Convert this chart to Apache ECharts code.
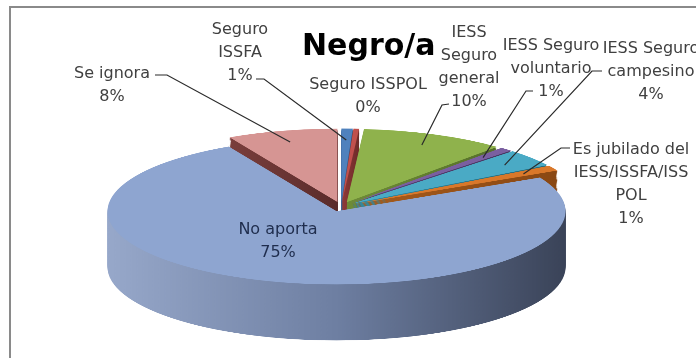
<!DOCTYPE html>
<html><head><meta charset="utf-8">
<script src="https://cdn.jsdelivr.net/npm/echarts@6/dist/echarts.min.js"></script>
<style>
html,body{margin:0;padding:0;background:#fff;overflow:hidden;width:696px;height:358px;}
#wrap{position:relative;width:696px;height:358px;overflow:hidden;background:#fff;}
#pie3d{position:absolute;left:0;top:101.4px;width:696px;height:800px;transform-origin:0 0;transform:scaleY(0.32);}
#labels{position:absolute;left:0;top:0;width:696px;height:358px;}
</style></head><body>
<div id="wrap"><div id="pie3d"></div><div id="labels"></div></div>
<script>
// ---- data ----
const title = 'Negro/a';
const categories = ['Seguro\nISSFA', 'Seguro ISSPOL', 'IESS\nSeguro\ngeneral', 'IESS Seguro\nvoluntario',
  'IESS Seguro\ncampesino', 'Es jubilado del\nIESS/ISSFA/ISS\nPOL', 'No aporta', 'Se ignora'];
const values = [0.8, 0.4, 10.2, 0.9, 3.9, 1.2, 74.8, 7.8];

// ---- styles ----
const topColors = ['#4F81BD', '#C0504D', '#8FB24C', '#7A5FA0', '#4AAAC5', '#D9782A', '#8EA5D0', '#D69593'];
const wallStops = [
  ['#3C6394', '#2A4669'],
  ['#8F3B39', '#6E2B29'],
  ['#6E8C37', '#56702A'],
  ['#5A4578', '#46355F'],
  ['#358A9F', '#276B7C'],
  ['#A85C1B', '#8A4813'],
  ['#97A8CA', '#6E7FA2', '#3A4358'],
  ['#7A3E3C', '#5A2C2B']
];
const labelColors = ['#404040', '#404040', '#404040', '#404040', '#404040', '#404040', '#1F2D4D', '#404040'];

// ---- layout ----
const K = 0.32, TOP = 101.4, CX = 341, CY = 330, R = 229, EXPLODE = 15, DEPTH = 175, STEP = 3.5, TIP = 0.85;
const LABEL_POS = [[240, 53], [368, 96], [469, 67], [551, 69], [651, 72], [631, 184], [278, 241], [112, 85]];
const LEADER = [[[256, 79], [264, 79]], null, [[449, 104], [442, 105]], [[533, 91], [526, 91]],
  [[602, 71], [592, 71]], [[570, 148], [561, 148]], null, [[155, 75], [167, 75]]];
const BCX = 348, BCY = 200;

function grad(stops) {
  return new echarts.graphic.LinearGradient(0, 0, 1, 0,
    stops.map((c, i) => ({ offset: i / (stops.length - 1), color: c })));
}

// ---- 3D pie body (squashed) ----
const pieChart = echarts.init(document.getElementById('pie3d'), null, { renderer: 'canvas' });
const series = [];
const nLayers = Math.round(DEPTH / STEP);
for (let n = nLayers; n >= 0; n--) {
  const j = n * STEP;
  const isTop = n === 0;
  series.push({
    type: 'pie', silent: true, animation: false,
    center: [CX, CY + j], radius: R, startAngle: 90, clockwise: true,
    selectedMode: 'multiple', selectedOffset: EXPLODE,
    label: { show: false }, labelLine: { show: false },
    emphasis: { disabled: true },
    itemStyle: { borderWidth: 0 },
    select: { itemStyle: { borderWidth: 0 } },
    data: categories.map((c, i) => ({
      name: c, value: values[i], selected: true,
      itemStyle: { color: isTop ? topColors[i] : grad(wallStops[i]), borderWidth: 0 },
      select: { itemStyle: { color: isTop ? topColors[i] : grad(wallStops[i]), borderWidth: 0 } }
    }))
  });
}
pieChart.setOption({ animation: false, series });

// ---- labels, title, frame ----
const labChart = echarts.init(document.getElementById('labels'), null, { renderer: 'canvas' });
labChart.setOption({
  animation: false,
  title: {
    text: title, left: 297, top: 27,
    textStyle: { fontFamily: 'DejaVu Sans', fontWeight: 'bold', fontSize: 30, color: '#000' }
  },
  graphic: [{
    type: 'rect', silent: true,
    shape: { x: 10, y: 7, width: 760, height: 420 },
    style: { fill: 'none', stroke: '#8a8a8a', lineWidth: 2 }
  }],
  series: [{
    type: 'pie', silent: true, animation: false,
    center: [BCX, BCY], radius: 40, startAngle: 90, clockwise: true,
    avoidLabelOverlap: false,
    itemStyle: { color: 'rgba(0,0,0,0)', borderWidth: 0 },
    label: {
      show: true, position: 'outside',
      formatter: p => p.name + '\n' + Math.round(p.percent) + '%',
      fontFamily: 'DejaVu Sans', fontSize: 16, lineHeight: 23, color: '#404040',
      width: 240, overflow: 'none', align: 'center'
    },
    labelLine: { show: true, length: 10, length2: 10, lineStyle: { color: '#2a2a2a', width: 1.2 } },
    labelLayout: function (p) {
      const i = p.dataIndex;
      const pos = LABEL_POS[i];
      const out = { x: pos[0], y: pos[1], align: 'center', verticalAlign: 'middle' };
      const lead = LEADER[i];
      if (lead && p.labelLinePoints) {
        const p0 = p.labelLinePoints[0];
        const dx = p0[0] - BCX, dy = p0[1] - BCY;
        const len = Math.hypot(dx, dy) || 1;
        const rr = R * TIP + EXPLODE;
        const sx = CX + rr * dx / len;
        const sy = TOP + (CY + rr * dy / len) * K;
        out.labelLinePoints = [[sx, sy], lead[1].slice(), lead[0].slice()];
      }
      return out;
    },
    data: categories.map((c, i) => ({
      name: c, value: values[i],
      label: { color: labelColors[i] },
      labelLine: { show: !!LEADER[i] }
    }))
  }]
});
</script>
</body></html>
